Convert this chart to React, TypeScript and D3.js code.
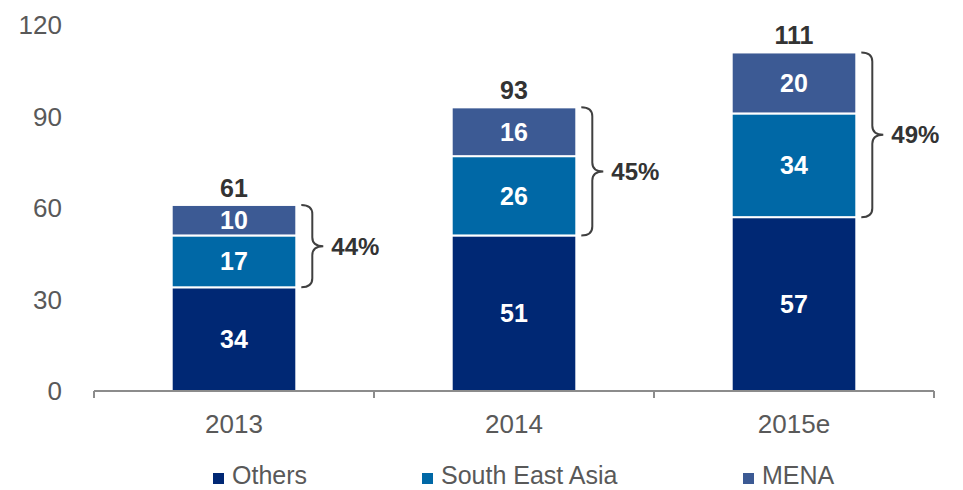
import React from "react";
import * as d3 from "d3";

const categories = ["2013", "2014", "2015e"];
const seriesNames = ["Others", "South East Asia", "MENA"];
const others = [34, 51, 57];
const southEastAsia = [17, 26, 34];
const mena = [10, 16, 20];
const totals = [61, 93, 111];
const shares = ["44%", "45%", "49%"];
const yTicks = [0, 30, 60, 90, 120];
const colors = ["#002874", "#0068A6", "#3C5A94"];

const W = 963, H = 490;
const x0 = 94, x1 = 934;
const yTop = 25, yBottom = 391;

export default function App() {
  const x = d3.scaleBand<string>().domain(categories).range([x0, x1]).paddingInner(0.555).paddingOuter(0.2775);
  const y = d3.scaleLinear().domain([0, 120]).range([yBottom, yTop]);
  const rows = categories.map((c, i) => ({ cat: c, Others: others[i], "South East Asia": southEastAsia[i], MENA: mena[i] }));
  const stacked = d3.stack<any>().keys(seriesNames)(rows);
  const band = (x1 - x0) / categories.length;
  const font = "'Liberation Sans', Arial, sans-serif";

  const brace = (bx: number, ya: number, yb: number) => {
    const w = 22;
    const ym = (ya + yb) / 2;
    const mx = bx + w / 2;
    const r = 9;
    return `M${bx},${ya} Q${mx},${ya} ${mx},${ya + r} L${mx},${ym - r} Q${mx},${ym} ${bx + w},${ym} Q${mx},${ym} ${mx},${ym + r} L${mx},${yb - r} Q${mx},${yb} ${bx},${yb}`;
  };

  return (
    <svg width={W} height={H} style={{ position: "absolute", left: 0, top: 0 }} fontFamily={font}>
      {yTicks.map((t) => (
        <text key={t} x={62} y={y(t)} dy="0.36em" textAnchor="end" fontSize={26} fill="#595959">{t}</text>
      ))}
      {stacked.map((s, si) =>
        s.map((d, i) => {
          const bx = x(categories[i])!;
          const top = y(d[1]);
          const bot = y(d[0]);
          return (
            <g key={`${si}-${i}`}>
              <rect x={bx} y={top} width={x.bandwidth()} height={bot - top} fill={colors[si]} stroke="#fff" strokeWidth={2} />
              <text x={bx + x.bandwidth() / 2} y={(top + bot) / 2} dy="0.36em" textAnchor="middle" fontSize={25} fontWeight="bold" fill="#fff">{d[1] - d[0]}</text>
            </g>
          );
        })
      )}
      <line x1={x0} x2={x1} y1={yBottom} y2={yBottom} stroke="#8c8c8c" strokeWidth={2} />
      {d3.range(categories.length + 1).map((k) => (
        <line key={k} x1={x0 + k * band} x2={x0 + k * band} y1={yBottom} y2={yBottom + 7} stroke="#8c8c8c" strokeWidth={2} />
      ))}
      {categories.map((c) => (
        <text key={c} x={x(c)! + x.bandwidth() / 2} y={433} textAnchor="middle" fontSize={26} fill="#595959">{c}</text>
      ))}
      {categories.map((c, i) => (
        <text key={c + "t"} x={x(c)! + x.bandwidth() / 2} y={y(totals[i]) - 8} textAnchor="middle" fontSize={25} fontWeight="bold" fill="#333">{totals[i]}</text>
      ))}
      {categories.map((c, i) => {
        const bx = x(c)! + x.bandwidth() + 5;
        const ya = y(totals[i]);
        const yb = y(others[i]);
        return (
          <g key={c + "b"}>
            <path d={brace(bx, ya, yb)} fill="none" stroke="#404040" strokeWidth={2} />
            <text x={bx + 30} y={(ya + yb) / 2} dy="0.36em" fontSize={24} fontWeight="bold" fill="#333">{shares[i]}</text>
          </g>
        );
      })}
      {seriesNames.map((n, i) => {
        const lx = [213, 422, 743][i];
        return (
          <g key={n}>
            <rect x={lx} y={473} width={11} height={11} fill={colors[i]} />
            <text x={lx + 19} y={484} fontSize={25} fill="#595959">{n}</text>
          </g>
        );
      })}
    </svg>
  );
}
